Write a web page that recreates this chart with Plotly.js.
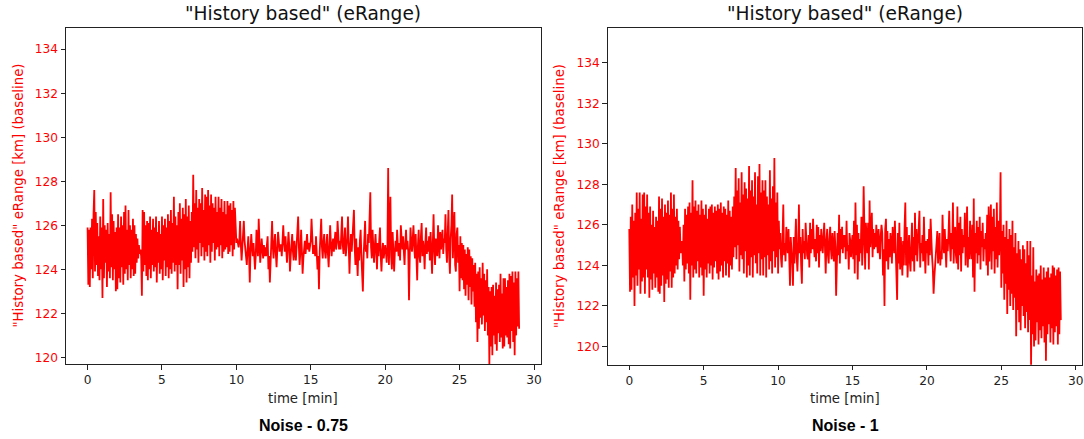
<!DOCTYPE html>
<html>
<head>
<meta charset="utf-8">
<script src="https://cdn.plot.ly/plotly-3.0.1.min.js"></script>
<style>html,body{margin:0;padding:0;background:#fff;}#chart{width:1084px;height:439px;}</style>
</head>
<body>
<div id="chart"></div>
<script>
// Time axis: samples every 0.05 min from 0 to 29 min
const timeStart = 0;
const timeStep = 0.05;

const panelTitles = ['"History based" (eRange)', '"History based" (eRange)'];
const panelCaptions = ['Noise - 0.75', 'Noise - 1'];
const xAxisLabel = 'time [min]';
const yAxisLabel = '"History based" eRange [km] (baseline)';
const xTickValues = [0, 5, 10, 15, 20, 25, 30];
const yTickValues = [120, 122, 124, 126, 128, 130, 132, 134];

// eRange [km], noise 0.75 — one value per 0.05 min (each row = 0.5 min)
const eRangeNoise075 = [
  125.9, 123.3, 125.8, 123.2, 125.9, 124.0, 126.3, 123.6, 126.5, 127.6,
  123.9, 126.6, 124.2, 126.1, 123.7, 125.5, 123.5, 126.4, 124.0, 125.9,
  122.7, 127.2, 123.6, 126.0, 124.3, 125.8, 123.2, 126.1, 123.9, 125.6,
  123.6, 127.5, 124.1, 126.5, 123.5, 126.2, 124.0, 125.7, 123.0, 125.9,
  123.1, 126.5, 123.6, 125.9, 123.4, 126.4, 124.1, 126.0, 123.3, 126.6,
  123.8, 126.9, 124.0, 125.8, 123.5, 126.7, 124.2, 126.0, 123.6, 125.8,
  124.0, 126.3, 123.7, 126.0, 123.8, 125.6, 124.3, 125.4, 124.5, 125.1,
  124.7, 124.9, 124.6, 122.8, 126.7, 123.9, 126.6, 124.2, 126.0, 123.7,
  126.2, 123.5, 126.1, 124.0, 126.4, 123.6, 125.8, 124.2, 126.3, 123.9,
  125.9, 124.1, 126.4, 123.4, 125.7, 124.3, 126.2, 123.8, 125.6, 124.0,
  126.4, 123.5, 126.0, 124.4, 126.3, 123.7, 125.9, 124.1, 126.5, 123.6,
  126.2, 124.0, 126.7, 123.8, 126.1, 124.3, 127.3, 123.9, 126.4, 124.2,
  126.0, 123.1, 126.6, 124.2, 127.0, 123.8, 126.3, 124.4, 126.8, 123.2,
  126.5, 124.0, 127.2, 123.4, 126.4, 124.1, 126.9, 123.6, 126.2, 124.3,
  126.6, 124.8, 128.3, 125.0, 127.0, 124.5, 127.6, 124.9, 126.8, 124.3,
  127.2, 125.2, 127.0, 124.6, 127.7, 125.0, 126.7, 124.4, 127.4, 124.8,
  127.3, 124.6, 127.6, 125.1, 126.9, 124.3, 127.4, 124.8, 127.0, 125.2,
  126.8, 124.4, 127.3, 124.9, 126.6, 125.0, 127.3, 124.6, 126.8, 125.1,
  127.2, 124.5, 126.6, 124.8, 127.1, 124.9, 126.5, 125.0, 127.1, 124.7,
  126.9, 124.8, 127.0, 125.1, 126.7, 124.6, 127.1, 124.9, 126.8, 125.2,
  125.2, 125.4, 125.1, 125.0, 125.3, 126.2, 125.1, 124.4, 125.0, 125.8,
  126.2, 125.3, 124.8, 124.5, 124.2, 124.9, 125.5, 124.7, 123.4, 124.9,
  125.6, 125.0, 124.6, 125.2, 124.8, 124.0, 124.6, 125.8, 125.1, 124.6,
  126.3, 125.0, 124.3, 124.8, 125.4, 124.9, 124.5, 125.1, 124.6, 125.0,
  124.6, 125.1, 125.5, 124.0, 124.6, 123.4, 124.8, 125.4, 126.2, 125.0,
  124.5, 125.2, 125.6, 124.7, 124.1, 124.9, 125.7, 125.3, 124.8, 125.1,
  125.1, 124.6, 125.3, 126.0, 125.2, 124.8, 125.5, 124.9, 124.3, 125.0,
  125.7, 125.1, 123.9, 124.6, 125.2, 125.6, 124.8, 124.4, 125.3, 124.6,
  124.4, 125.1, 125.6, 126.4, 125.0, 124.2, 124.8, 125.8, 124.9, 123.8,
  124.5, 125.0, 125.3, 124.7, 125.1, 125.6, 124.9, 125.2, 124.8, 125.0,
  125.3, 126.3, 125.2, 124.7, 125.1, 124.8, 124.6, 125.5, 125.0, 124.0,
  124.6, 123.1, 124.8, 125.6, 126.3, 125.0, 124.5, 125.2, 125.6, 124.8,
  124.5, 125.1, 125.6, 124.7, 124.1, 125.0, 126.0, 125.2, 124.6, 125.1,
  125.4, 124.8, 125.2, 125.7, 124.9, 125.2, 126.2, 125.4, 124.9, 125.3,
  124.9, 125.6, 126.4, 125.1, 124.7, 125.3, 125.9, 124.6, 125.0, 125.4,
  126.4, 125.2, 123.8, 124.9, 125.6, 124.8, 125.3, 126.2, 126.7, 125.0,
  124.2, 125.4, 124.8, 123.7, 125.0, 124.4, 125.3, 125.8, 124.6, 124.0,
  123.0, 124.6, 125.3, 126.2, 124.8, 125.1, 124.5, 125.6, 125.2, 126.0,
  127.5, 125.0, 124.5, 125.8, 125.3, 124.3, 125.0, 125.6, 124.8, 124.0,
  125.2, 124.6, 125.3, 125.9, 124.6, 123.9, 124.8, 125.2, 124.5, 125.1,
  125.1, 124.8, 124.3, 125.0, 128.6, 124.2, 125.5, 127.3, 124.6, 124.0,
  125.7, 125.0, 123.9, 124.8, 125.3, 124.8, 125.8, 125.1, 124.6, 125.2,
  124.4, 126.0, 125.1, 124.9, 125.5, 124.6, 124.2, 125.2, 125.8, 124.9,
  125.3, 124.8, 122.6, 124.6, 125.9, 125.2, 124.8, 125.4, 126.0, 125.0,
  124.5, 125.6, 124.9, 123.5, 125.1, 125.8, 124.6, 124.3, 125.5, 126.1,
  124.6, 125.3, 124.9, 124.0, 125.2, 125.9, 124.7, 125.3, 124.8, 125.5,
  124.4, 125.7, 124.8, 123.8, 125.2, 126.5, 124.9, 124.2, 125.4, 124.8,
  124.6, 126.0, 125.1, 124.5, 125.7, 124.9, 125.3, 125.8, 124.7, 125.4,
  125.2, 126.5, 124.9, 124.3, 125.6, 126.7, 124.6, 123.8, 125.4, 126.0,
  127.4, 124.5, 125.8, 126.6, 124.2, 123.9, 125.6, 125.9, 124.3, 125.1,
  123.0, 125.5, 123.6, 125.2, 123.5, 125.1, 123.1, 124.9, 122.8, 124.7,
  123.3, 125.0, 122.6, 124.9, 123.2, 124.6, 122.4, 124.5, 123.0, 124.2,
  122.3, 124.3, 121.6, 123.8, 120.7, 123.9, 121.3, 124.1, 121.8, 123.6,
  121.5, 124.3, 121.9, 123.8, 121.2, 123.5, 121.6, 124.0, 121.0, 123.2,
  119.7, 123.0, 120.5, 123.2, 120.1, 123.3, 121.0, 122.8, 120.6, 123.4,
  120.3, 123.1, 121.1, 123.3, 120.7, 123.8, 120.9, 122.9, 120.4, 123.6,
  120.5, 123.6, 121.0, 123.2, 120.9, 123.5, 120.6, 123.8, 120.4, 123.7,
  121.2, 123.9, 120.7, 123.4, 120.1, 123.9, 121.0, 123.6, 121.4, 123.9,
  121.3
];

// eRange [km], noise 1 — one value per 0.05 min (each row = 0.5 min)
const eRangeNoise1 = [
  125.8, 122.7, 126.4, 122.8, 127.0, 123.4, 126.2, 122.0, 126.6, 123.5,
  127.6, 123.0, 126.8, 123.8, 127.6, 122.6, 126.3, 123.2, 127.5, 123.4,
  127.6, 122.6, 126.9, 123.8, 127.5, 123.4, 126.6, 122.4, 126.9, 123.3,
  126.0, 122.8, 126.7, 123.6, 125.9, 122.9, 126.4, 123.4, 126.2, 122.7,
  127.4, 122.6, 126.8, 123.0, 127.3, 123.5, 126.4, 122.2, 127.0, 123.1,
  126.6, 123.3, 127.2, 122.9, 126.5, 123.7, 127.6, 122.9, 126.8, 123.4,
  127.5, 123.6, 126.4, 124.0, 126.8, 123.8, 126.2, 124.3, 125.9, 124.6,
  125.0, 125.2, 124.0, 126.0, 123.2, 126.8, 123.8, 126.5, 124.1, 126.9,
  123.6, 127.1, 122.3, 126.6, 124.0, 128.2, 123.4, 126.9, 123.8, 127.2,
  123.6, 126.7, 124.2, 127.0, 123.4, 126.5, 123.9, 127.2, 123.5, 126.8,
  122.5, 126.5, 123.8, 127.0, 123.4, 126.3, 124.1, 126.8, 123.6, 126.9,
  124.0, 127.0, 123.3, 126.6, 123.9, 126.9, 124.2, 126.7, 123.6, 127.0,
  123.3, 126.8, 123.7, 127.1, 124.0, 126.6, 123.4, 126.9, 124.2, 126.8,
  123.5, 126.5, 124.1, 127.2, 123.4, 126.7, 124.0, 126.4, 123.8, 126.9,
  124.4, 127.4, 124.9, 128.8, 124.3, 127.7, 125.0, 128.3, 123.7, 127.1,
  124.5, 128.6, 124.3, 127.5, 123.6, 128.1, 124.7, 127.8, 123.4, 127.3,
  124.0, 128.9, 123.5, 127.7, 124.4, 128.2, 123.4, 127.4, 124.5, 128.6,
  124.1, 127.0, 123.6, 128.4, 124.6, 129.0, 123.5, 127.6, 124.3, 128.2,
  123.5, 127.7, 124.4, 128.2, 123.4, 127.4, 124.5, 127.0, 123.8, 128.7,
  124.2, 127.3, 123.6, 127.9, 124.7, 129.3, 123.9, 127.1, 124.4, 127.6,
  123.6, 126.2, 124.8, 125.6, 124.3, 123.9, 125.4, 127.0, 124.5, 125.1,
  124.2, 125.9, 125.3, 124.6, 125.8, 124.0, 123.0, 125.4, 124.8, 124.1,
  123.0, 125.4, 124.1, 125.7, 126.3, 124.4, 123.7, 124.9, 127.0, 124.6,
  125.4, 124.0, 123.1, 125.8, 124.6, 125.2, 124.3, 126.1, 124.9, 124.5,
  124.3, 125.5, 123.9, 126.1, 124.6, 125.8, 124.8, 126.3, 125.1, 124.4,
  125.3, 124.2, 126.0, 124.6, 125.9, 123.9, 125.5, 124.7, 125.8, 125.0,
  124.6, 125.4, 126.1, 124.9, 123.6, 125.2, 125.8, 124.5, 124.1, 125.3,
  125.9, 124.8, 124.3, 125.6, 125.1, 124.2, 125.7, 124.9, 122.5, 125.0,
  125.6, 124.5, 126.5, 124.1, 125.8, 124.8, 125.9, 124.6, 125.5, 124.9,
  125.5, 124.3, 126.2, 124.7, 125.0, 123.8, 125.6, 125.2, 124.4, 125.1,
  125.5, 124.3, 126.2, 123.6, 127.1, 124.5, 126.0, 123.3, 125.6, 124.2,
  125.3, 124.6, 126.4, 124.0, 125.1, 127.9, 124.6, 123.8, 126.1, 125.2,
  124.6, 126.1, 123.8, 127.2, 124.9, 125.7, 126.6, 124.4, 125.8, 124.8,
  125.6, 124.9, 126.0, 125.3, 124.6, 125.8, 125.1, 124.3, 125.5, 126.0,
  125.6, 123.5, 124.8, 122.0, 125.8, 126.3, 124.2, 125.7, 123.8, 125.3,
  124.4, 125.6, 125.0, 124.1, 125.9, 125.2, 124.6, 126.2, 124.8, 123.9,
  122.3, 125.6, 124.1, 126.1, 123.8, 125.4, 124.6, 123.5, 125.2, 124.0,
  125.9, 127.1, 124.0, 125.9, 123.4, 124.8, 125.5, 124.2, 123.7, 125.0,
  126.1, 124.2, 125.4, 123.7, 126.6, 124.5, 125.8, 124.2, 124.9, 125.6,
  126.7, 123.9, 125.1, 124.6, 125.5, 124.2, 126.4, 124.8, 123.6, 125.2,
  124.6, 125.3, 124.0, 125.8, 124.5, 126.3, 125.0, 124.4, 123.8, 122.6,
  123.4, 124.1, 124.8, 125.4, 125.7, 124.1, 124.9, 125.6, 124.0, 124.7,
  124.3, 126.5, 125.2, 124.6, 125.8, 124.9, 123.9, 125.3, 124.7, 125.5,
  126.7, 125.0, 124.2, 125.6, 124.8, 127.1, 124.1, 125.3, 125.9, 124.5,
  124.1, 126.9, 123.8, 126.1, 124.5, 126.4, 123.7, 125.8, 124.6, 125.5,
  124.9, 126.6, 124.0, 125.2, 126.9, 123.9, 125.4, 124.3, 126.2, 125.0,
  124.3, 126.0, 123.4, 127.3, 122.7, 125.6, 124.6, 126.2, 124.1, 125.9,
  124.5, 126.4, 123.8, 125.7, 124.9, 126.1, 124.2, 125.3, 124.8, 125.6,
  124.0, 126.5, 123.5, 126.9, 124.2, 125.5, 127.0, 123.8, 126.4, 124.7,
  126.8, 123.6, 125.9, 124.3, 127.1, 123.9, 126.2, 124.5, 125.4, 128.6,
  122.9, 125.7, 123.6, 126.0, 122.3, 125.4, 123.1, 126.2, 121.6, 125.3,
  122.8, 125.8, 122.0, 125.5, 122.6, 126.2, 121.8, 124.9, 122.4, 125.6,
  120.5, 124.6, 121.8, 125.2, 121.2, 124.8, 120.8, 124.3, 122.0, 125.0,
  121.5, 124.8, 120.9, 124.1, 121.7, 125.2, 120.7, 124.5, 121.3, 125.2,
  119.0, 123.5, 120.6, 124.9, 120.0, 123.2, 120.3, 123.8, 121.2, 123.5,
  120.1, 123.6, 120.8, 124.0, 120.4, 123.3, 121.0, 123.9, 120.2, 123.4,
  119.3, 123.7, 120.6, 123.9, 121.1, 123.4, 120.2, 123.6, 120.9, 124.0,
  120.1, 123.9, 120.7, 123.5, 121.0, 123.8, 120.1, 123.9, 120.6, 123.7,
  121.3
];

const RED = '#ff0000';
const AXIS = '#222222';
const FONT = 'DejaVu Sans, sans-serif';

const traces = [
  { y: eRangeNoise075, x0: timeStart, dx: timeStep, type: 'scatter', mode: 'lines',
    line: { color: RED, width: 1.8 }, xaxis: 'x', yaxis: 'y', showlegend: false, hoverinfo: 'skip' },
  { y: eRangeNoise1, x0: timeStart, dx: timeStep, type: 'scatter', mode: 'lines',
    line: { color: RED, width: 1.8 }, xaxis: 'x2', yaxis: 'y2', showlegend: false, hoverinfo: 'skip' }
];

function xAx(domain, anchor) {
  return {
    domain: domain, anchor: anchor, range: [-1.45, 30.45],
    tickmode: 'array', tickvals: xTickValues, ticktext: xTickValues.map(String),
    ticks: 'outside', ticklen: 4.5, tickwidth: 1, tickcolor: AXIS,
    showline: true, linecolor: AXIS, linewidth: 1, mirror: true,
    showgrid: false, zeroline: false,
    tickfont: { family: FONT, size: 12.2, color: '#222' }
  };
}
function yAx(domain, anchor, range) {
  return {
    domain: domain, anchor: anchor, range: range,
    tickmode: 'array', tickvals: yTickValues, ticktext: yTickValues.map(String),
    ticks: 'outside', ticklen: 4.5, tickwidth: 1, tickcolor: AXIS,
    showline: true, linecolor: AXIS, linewidth: 1, mirror: true,
    showgrid: false, zeroline: false,
    tickfont: { family: FONT, size: 12.2, color: RED }
  };
}

const W = 1084, H = 439;
const leftDom = [66 / W, 540.7 / W];
const rightDom = [607.7 / W, 1082.4 / W];

function centerOf(d) { return (d[0] + d[1]) / 2; }

const layout = {
  width: W, height: H,
  margin: { l: 0, r: 0, t: 0, b: 0 },
  paper_bgcolor: '#ffffff', plot_bgcolor: '#ffffff',
  xaxis: xAx(leftDom, 'y'),
  yaxis: yAx([1 - 364 / H, 1 - 28.3 / H], 'x', [119.7, 134.95]),
  xaxis2: xAx(rightDom, 'y2'),
  yaxis2: yAx([1 - 364.7 / H, 1 - 28.3 / H], 'x2', [119.1, 135.7]),
  annotations: [
    { text: panelTitles[0], xref: 'paper', yref: 'paper', x: centerOf(leftDom), y: 1 - 14 / H,
      showarrow: false, font: { family: FONT, size: 18.6, color: '#111' }, xanchor: 'center', yanchor: 'middle' },
    { text: panelTitles[1], xref: 'paper', yref: 'paper', x: centerOf(rightDom), y: 1 - 14 / H,
      showarrow: false, font: { family: FONT, size: 18.6, color: '#111' }, xanchor: 'center', yanchor: 'middle' },
    { text: xAxisLabel, xref: 'paper', yref: 'paper', x: centerOf(leftDom), y: 1 - 398 / H,
      showarrow: false, font: { family: FONT, size: 13.3, color: '#222' }, xanchor: 'center', yanchor: 'middle' },
    { text: xAxisLabel, xref: 'paper', yref: 'paper', x: centerOf(rightDom), y: 1 - 398 / H,
      showarrow: false, font: { family: FONT, size: 13.3, color: '#222' }, xanchor: 'center', yanchor: 'middle' },
    { text: '<b>' + panelCaptions[0] + '</b>', xref: 'paper', yref: 'paper', x: centerOf(leftDom), y: 1 - 425 / H,
      showarrow: false, font: { family: 'Liberation Sans, Arial, sans-serif', size: 16, color: '#000' }, xanchor: 'center', yanchor: 'middle' },
    { text: '<b>' + panelCaptions[1] + '</b>', xref: 'paper', yref: 'paper', x: centerOf(rightDom), y: 1 - 425 / H,
      showarrow: false, font: { family: 'Liberation Sans, Arial, sans-serif', size: 16, color: '#000' }, xanchor: 'center', yanchor: 'middle' },
    { text: yAxisLabel, xref: 'paper', yref: 'paper', x: 17.5 / W, y: 1 - 196 / H, textangle: -90,
      showarrow: false, font: { family: FONT, size: 13.3, color: RED }, xanchor: 'center', yanchor: 'middle' },
    { text: yAxisLabel, xref: 'paper', yref: 'paper', x: 559 / W, y: 1 - 196 / H, textangle: -90,
      showarrow: false, font: { family: FONT, size: 13.3, color: RED }, xanchor: 'center', yanchor: 'middle' }
  ]
};

Plotly.newPlot('chart', traces, layout, { displayModeBar: false, staticPlot: true });
</script>
</body>
</html>
